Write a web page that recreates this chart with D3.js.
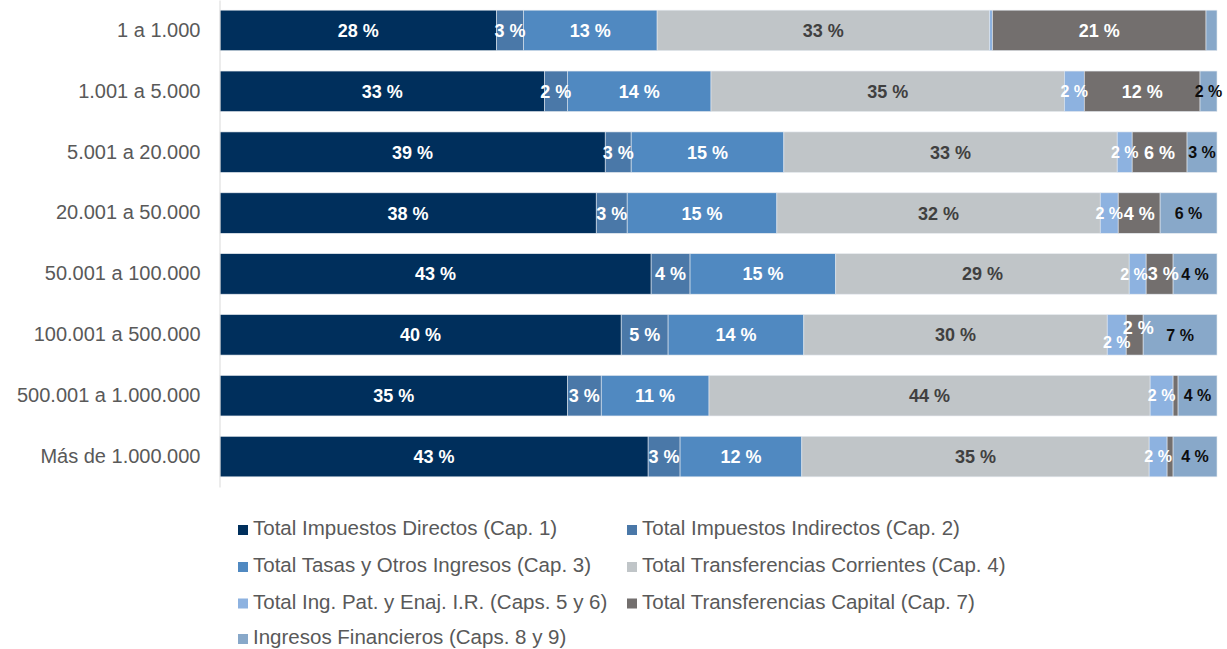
<!DOCTYPE html>
<meta charset="utf-8">
<html>
<script src="https://d3js.org/d3.v7.min.js"></script>
<style>
    body { margin: 0; background: #fff; }
    text { font-family: "Liberation Sans", Arial, sans-serif; }
</style>
<body>
<div id="chart"></div>
<script>
    // Categories (population size ranges)
    var categories = ["1 a 1.000", "1.001 a 5.000", "5.001 a 20.000", "20.001 a 50.000",
        "50.001 a 100.000", "100.001 a 500.000", "500.001 a 1.000.000", "Más de 1.000.000 "];

    var seriesNames = ["Total Impuestos Directos (Cap. 1)", "Total Impuestos Indirectos (Cap. 2)",
        "Total Tasas y Otros Ingresos (Cap. 3)", "Total Transferencias Corrientes (Cap. 4)",
        "Total Ing. Pat. y Enaj. I.R. (Caps. 5 y 6)", "Total Transferencias Capital (Cap. 7)",
        "Ingresos Financieros (Caps. 8 y 9)"];

    // Percent values per series, one per category
    var directos = [27.7, 32.5, 38.6, 37.7, 43.2, 40.2, 34.8, 42.9];
    var indirectos = [2.7, 2.3, 2.6, 3.1, 3.9, 4.7, 3.4, 3.2];
    var tasas = [13.4, 14.4, 15.3, 15.0, 14.6, 13.6, 10.8, 12.2];
    var corrientes = [33.3, 35.4, 33.4, 32.4, 29.4, 30.4, 44.2, 34.8];
    var patrimoniales = [0.3, 2.0, 1.5, 1.8, 1.7, 1.9, 2.3, 1.8];
    var capital = [21.4, 11.6, 5.5, 4.2, 2.7, 1.7, 0.5, 0.6];
    var financieros = [1.1, 1.7, 3.0, 5.7, 4.4, 7.4, 3.9, 4.4];

    var seriesValues = [directos, indirectos, tasas, corrientes, patrimoniales, capital, financieros];
    var colors = ["#002f5c", "#4a78a8", "#5089c1", "#c0c5c8", "#8db2e0", "#736f6e", "#88a8c9"];
    var labelColors = ["#fff", "#fff", "#fff", "#404040", "#fff", "#fff", "#0d0d0d"];
    var labelSizes = [18, 18, 18, 18, 16, 18, 16];

    var W = 1227, H = 649;
    var svg = d3.select("#chart").append("svg")
        .attr("width", W)
        .attr("height", H);

    // Build table for stacking
    var table = categories.map(function (c, i) {
        var row = { cat: c };
        seriesNames.forEach(function (s, j) { row[s] = seriesValues[j][i]; });
        return row;
    });
    var stacked = d3.stack().keys(seriesNames)(table);
    var totals = table.map(function (r) { return d3.sum(seriesNames, function (s) { return r[s]; }); });

    var x = d3.scaleLinear()
        .domain([0, d3.max(totals)])
        .range([220, 1217]);

    var y = d3.scaleBand()
        .domain(categories)
        .range([0, 487])
        .paddingInner(0.335)
        .paddingOuter(0.167);

    // Bars
    var groups = svg.selectAll("g.series")
        .data(stacked)
        .enter().append("g")
        .attr("class", "series")
        .attr("fill", function (d, i) { return colors[i]; });

    groups.selectAll("rect")
        .data(function (d) { return d; })
        .enter().append("rect")
        .attr("x", function (d) { return x(d[0]); })
        .attr("y", function (d) { return y(d.data.cat); })
        .attr("width", function (d) { return x(d[1]) - x(d[0]); })
        .attr("height", y.bandwidth())
        .attr("stroke", "#e4e9ef")
        .attr("stroke-width", 0.6);

    // Y axis
    var yAxis = svg.append("g")
        .attr("transform", "translate(219.5,0)")
        .call(d3.axisLeft(y).tickSize(0).tickSizeOuter(0).tickPadding(19));
    yAxis.select(".domain").attr("stroke", "#d9d9d9");
    yAxis.selectAll("text")
        .style("font-size", "20px")
        .style("font-family", "'Liberation Sans', Arial, sans-serif")
        .attr("fill", "#595959");

    // Data labels, bar by bar so neighbouring labels can be nudged apart
    categories.forEach(function (c, i) {
        var prevLabel = null;
        stacked.forEach(function (layer, j) {
            var d = layer[i];
            var v = seriesValues[j][i];
            if (v < 1.2) return;
            var dy = 0, dx = 0;
            // stagger two neighbouring narrow labels, as in the original
            var next = seriesValues[j + 1] ? seriesValues[j + 1][i] : 0;
            var prev = j > 0 ? seriesValues[j - 1][i] : 0;
            if (v < 2.2 && next >= 1.2 && next < 2.2) dy = 7.5;
            if (v < 2.2 && prev >= 1.2 && prev < 2.2) { dy = -7.5; dx = 3.5; }
            var cx = (x(d[0]) + x(d[1])) / 2 + dx;
            var t = svg.append("text")
                .attr("x", cx)
                .attr("y", y(c) + y.bandwidth() / 2 + dy)
                .attr("dy", "0.36em")
                .attr("text-anchor", "middle")
                .style("font-size", labelSizes[j] + "px")
                .style("font-weight", "bold")
                .attr("fill", labelColors[j])
                .text(Math.round(v) + " %");
            var w = t.node().getComputedTextLength();
            var lab = { node: t, x: cx, w: w, dy: dy };
            if (prevLabel && prevLabel.dy === dy) {
                var overlap = (prevLabel.x + prevLabel.w / 2) - (cx - w / 2);
                if (overlap > 0) {
                    prevLabel.x -= overlap / 2;
                    prevLabel.node.attr("x", prevLabel.x);
                    lab.x += overlap / 2;
                    t.attr("x", lab.x);
                }
            }
            prevLabel = lab;
        });
    });

    // Legend
    var legendX = [238, 627], legendY = [530, 567, 603.5, 639];
    var legend = svg.selectAll("g.legend")
        .data(seriesNames)
        .enter().append("g")
        .attr("class", "legend")
        .attr("transform", function (d, i) {
            return "translate(" + legendX[i % 2] + "," + legendY[Math.floor(i / 2)] + ")";
        });
    legend.append("rect")
        .attr("x", 0)
        .attr("y", -5)
        .attr("width", 10)
        .attr("height", 10)
        .attr("fill", function (d, i) { return colors[i]; });
    legend.append("text")
        .attr("x", 15)
        .attr("dy", "0.26em")
        .style("font-size", "20.5px")
        .attr("fill", "#595959")
        .text(function (d) { return d; });
</script>
</body>
</html>
